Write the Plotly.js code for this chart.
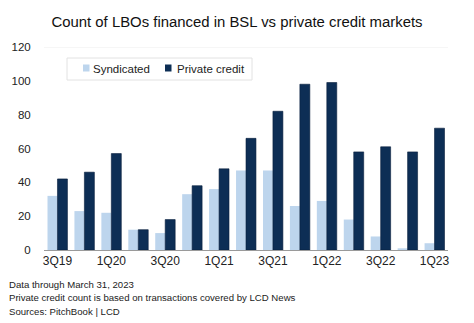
<!DOCTYPE html>
<html>
<head>
<meta charset="utf-8">
<script src="https://cdn.plot.ly/plotly-3.0.1.min.js"></script>
<style>html,body{margin:0;padding:0;background:#fff;}#chart{width:474px;height:323px;}</style>
</head>
<body>
<div id="chart"></div>
<script>
const quarters = ["3Q19","4Q19","1Q20","2Q20","3Q20","4Q20","1Q21","2Q21","3Q21","4Q21","1Q22","2Q22","3Q22","4Q22","1Q23"];
const syndicated = [32,23,22,12,10,33,36,47,47,26,29,18,8,1,4];
const privateCredit = [42,46,57,12,18,38,48,66,82,98,99,58,61,58,72];
const tickLabels = ["3Q19","1Q20","3Q20","1Q21","3Q21","1Q22","3Q22","1Q23"];
const seriesNames = ["Syndicated","Private credit"];
const seriesColors = ["#bdd5ed","#0d2e55"];
const footnotes = ["Data through March 31, 2023","Private credit count is based on transactions covered by LCD News","Sources: PitchBook | LCD"];

const font = "Liberation Sans, Arial, sans-serif";
const W = 474, H = 323, L = 44, R = 26, T = 47, B = 73;
const pw = W - L - R, ph = H - T - B;
const px = x => (x - L) / pw;          // pixel x -> paper
const py = y => (T + ph - y) / ph;     // pixel y -> paper

const traces = [
  {type:"bar", name:seriesNames[0], x:quarters, y:syndicated, marker:{color:seriesColors[0], line:{width:0}}, showlegend:false},
  {type:"bar", name:seriesNames[1], x:quarters, y:privateCredit, marker:{color:seriesColors[1], line:{color:"#081f3c", width:0.6}}, showlegend:false}
];

const annotations = footnotes.map((t,i)=>({
  text:t, xref:"paper", yref:"paper", x:px(7), y:py(284 + i*13.5), xanchor:"left", yanchor:"middle",
  showarrow:false, font:{family:font, size:9.6, color:"#222"}
}));
// legend labels
const legendItems = [{sx:83, tx:90.5}, {sx:165, tx:175}];
legendItems.forEach((it,i)=>{
  annotations.push({text:seriesNames[i], xref:"paper", yref:"paper", x:px(it.tx), y:py(69), xanchor:"left", yanchor:"middle",
    showarrow:false, font:{family:font, size:11.5, color:"#222"}});
});

const shapes = [
  {type:"line", xref:"paper", yref:"y", x0:0, x1:1, y0:120, y1:120, line:{color:"#eeeeee", width:1}},
  {type:"rect", xref:"paper", yref:"paper", x0:px(67), x1:px(252), y0:py(58), y1:py(80), fillcolor:"#fff", line:{color:"#e2e2e2", width:1}}
];
legendItems.forEach((it,i)=>{
  shapes.push({type:"rect", xref:"paper", yref:"paper", x0:px(it.sx), x1:px(it.sx+6.5), y0:py(64.5), y1:py(71.5), fillcolor:seriesColors[i], line:{width:0}});
});

const layout = {
  width:W, height:H,
  margin:{l:L, r:R, t:T, b:B},
  paper_bgcolor:"#fff", plot_bgcolor:"#fff",
  font:{family:font, size:12, color:"#222"},
  title:{text:"Count of LBOs financed in BSL vs private credit markets", font:{family:font, size:14.9, color:"#111"}, x:0.5, xanchor:"center", y:1-22/H, yref:"container", yanchor:"middle"},
  barmode:"group", bargap:0.26, bargroupgap:0,
  xaxis:{type:"category", tickmode:"array", tickvals:tickLabels, ticktext:tickLabels, showline:true, linecolor:"#9a9a9a", linewidth:1, showgrid:false, ticks:"", tickfont:{size:12, color:"#222"}, zeroline:false},
  yaxis:{range:[0,120], dtick:20, showgrid:false, zeroline:false, showline:false, ticks:"outside", ticklen:10, tickcolor:"rgba(0,0,0,0)", tickfont:{size:11.5, color:"#222"}},
  shapes:shapes,
  annotations:annotations,
  showlegend:false
};
Plotly.newPlot("chart", traces, layout, {displayModeBar:false, staticPlot:true});
</script>
</body>
</html>
